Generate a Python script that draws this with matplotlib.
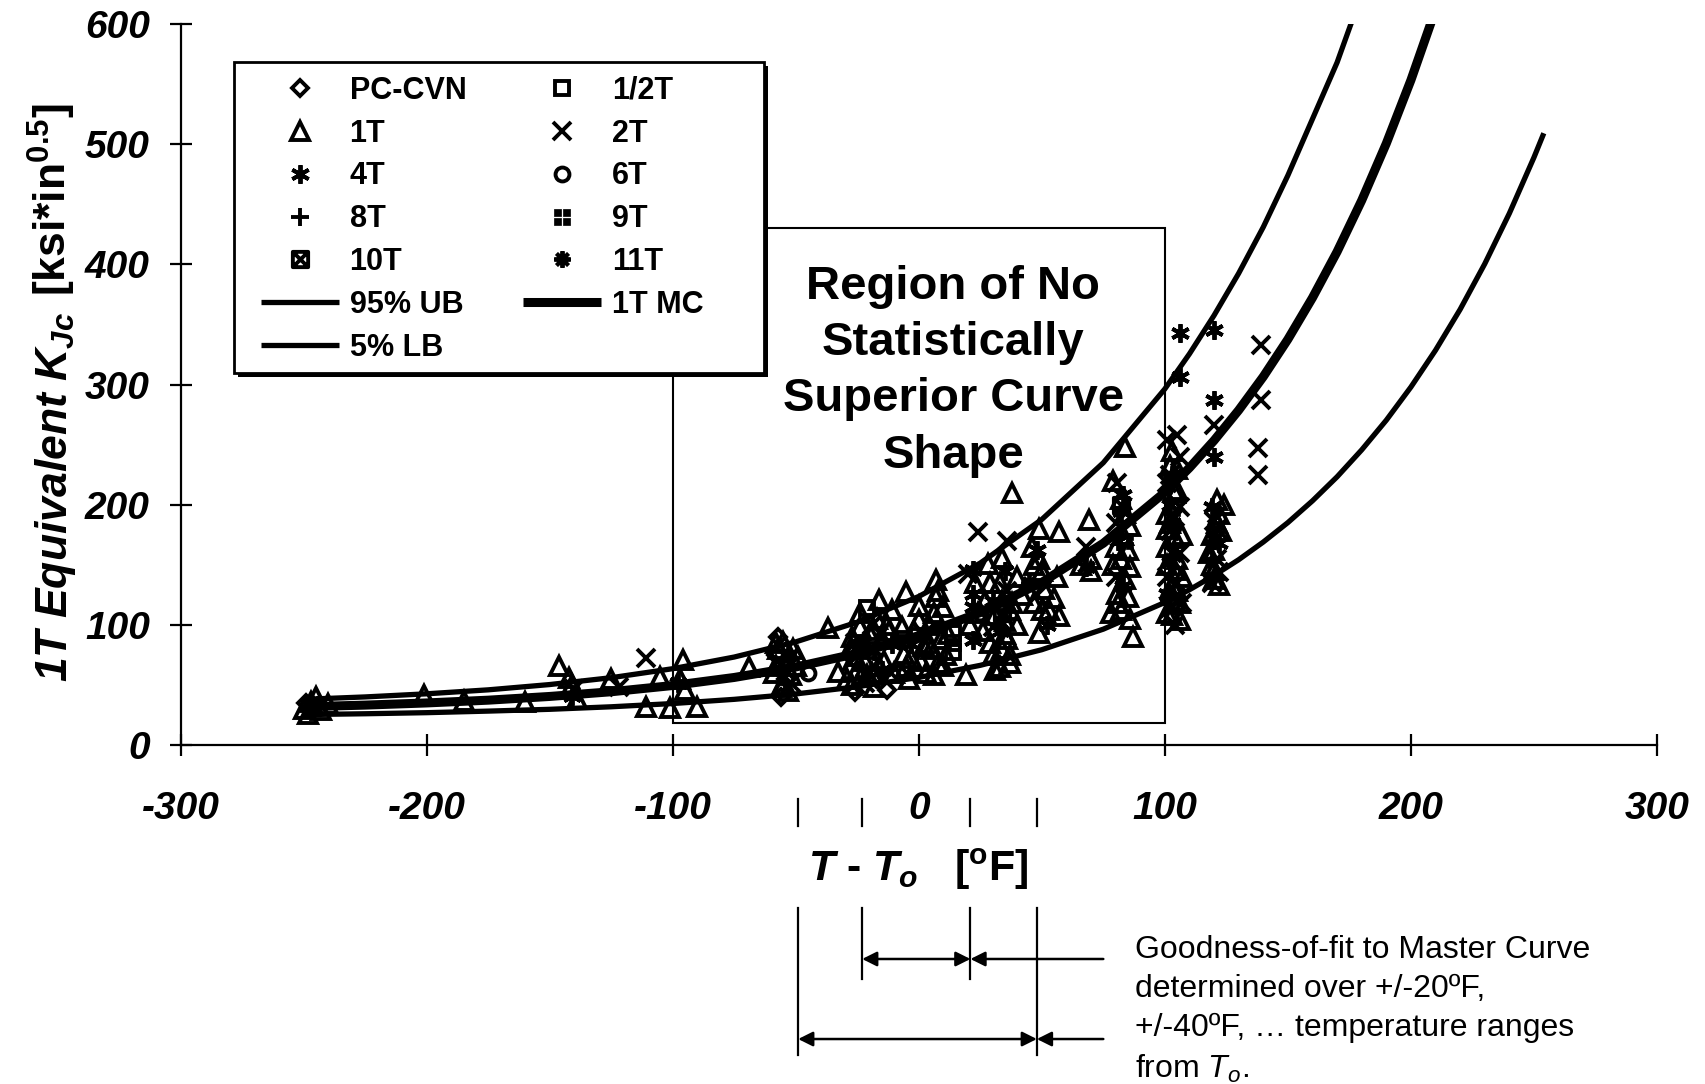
import matplotlib
matplotlib.use("Agg")
import matplotlib.pyplot as plt
from matplotlib.path import Path
from matplotlib.patches import Rectangle

plt.rcParams['font.family'] = ['Liberation Sans', 'DejaVu Sans']
plt.rcParams['axes.unicode_minus'] = False
plt.rcParams['mathtext.fontset'] = 'custom'
plt.rcParams['mathtext.it'] = 'Liberation Sans:italic:bold'
plt.rcParams['mathtext.rm'] = 'Liberation Sans:bold'
plt.rcParams['mathtext.bf'] = 'Liberation Sans:bold'
plt.rcParams['mathtext.sf'] = 'Liberation Sans:italic'

# ---- curves (T - To in F, K in ksi*in^0.5)
mc_T = [-250, -225, -200, -175, -150, -125, -100, -75, -50, -25, 0, 25, 50, 75, 100,
        110, 120, 130, 140, 150, 160, 170, 180, 190, 200, 210]
mc_K = [31.8, 33.2, 35.0, 37.3, 40.4, 44.3, 49.5, 56.2, 64.9, 76.2, 91.0, 110.2, 135.3, 167.9, 210.3,
        230.7, 253.4, 278.6, 306.5, 337.6, 372.2, 410.5, 453.2, 500.6, 553.3, 611.9]
ub_T = [-250, -225, -200, -175, -150, -125, -100, -75, -50, -25, 0, 25, 50, 75, 100,
        110, 120, 130, 140, 150, 160, 170, 180]
ub_K = [38.0, 40.0, 42.6, 45.9, 50.3, 56.0, 63.5, 73.2, 85.8, 102.2, 123.6, 151.4, 187.7, 234.9, 296.3,
        325.5, 357.5, 392.5, 431.0, 474.0, 521.0, 568.0, 625.0]
lb_T = [-250, -225, -200, -175, -150, -125, -100, -75, -50, -25, 0, 25, 50, 75, 100,
        110, 120, 130, 140, 150, 160, 170, 180, 190, 200, 210, 220, 230, 240, 250, 254]
lb_K = [25.3, 26.0, 26.9, 28.2, 29.7, 31.8, 34.5, 38.0, 42.5, 48.5, 56.2, 66.3, 79.3, 96.4, 118.6,
        129.2, 141.1, 154.2, 168.9, 185.1, 203.2, 223.2, 245.6, 270.3, 297.9, 328.5, 362.5, 400.4,
        442.4, 489.0, 509.1]

# ---- specimen data
pccvn_T = [-249, -57, -56, -58, -26, -13, -8, -54]
pccvn_K = [35, 90, 40, 75, 44, 46, 60, 55]

half_T = [-21, 14, 14, 14, -6]
half_K = [114, 93, 85, 77, 88]

t1_T = [-250, -247, -243, -240, -248, -245, -201, -160, -185, -146, -141, -139, -142, -125,
        -105, -111, -101, -90, -96, -97, -95, -69, -49, -58, -57, -53, -50, -59, -55, -37, -33,
        -56, -52, -58, -51, -55,
        -29, -28, -27, -25, -24, -22, -20, -19, -17, -16, -16, -15, -12, -11, -26, -21, -18,
        -27, -23, -21, -18, -14, -13, -10, -24,
        -7, -6, -5, -5, -4, 0, 0, 1, 3, 5, 6, 7, 7, 8, 9, 10, 11, 19, -2, 4,
        -3, 2, 4, 6, 8, 12, 10,
        21, 26, 28, 29, 31, 29, 30, 31, 24, 27, 23,
        38, 34, 33, 34, 37, 35, 36, 34, 37, 33, 37, 40, 42, 40, 35, 38,
        49, 57, 49, 47, 50, 51, 47, 53, 57, 49, 55, 56, 46, 50,
        69, 70, 70, 66,
        84, 79, 84, 83, 85, 82, 86, 80.5, 85, 81, 87, 78, 86, 82, 86, 80, 84, 82, 79,
        102, 104, 101, 104, 101, 104, 107, 103, 104, 103, 106, 102, 105,
        101, 105, 102, 106, 101, 105, 103, 105, 107, 101,
        121, 122, 119, 120, 119, 120, 124, 121, 118, 123, 120, 122]
t1_K = [30, 36, 29, 34, 26, 40, 42, 36, 37, 66, 50, 38, 56, 55,
        57, 32, 31, 32, 71, 55, 46, 65, 73, 85, 80, 45, 66, 60, 50, 97, 61,
        48, 58, 66, 80, 86,
        55, 80, 90, 62, 98, 70, 92, 60, 105, 121, 66, 88, 95, 112, 74, 58, 96,
        50, 58, 80, 48, 70, 100, 60, 110,
        98, 76, 127, 65, 55, 116, 104, 70, 60, 80, 110, 137, 123, 68, 88, 115, 75, 58, 95, 85,
        72, 82, 100, 58, 128, 92, 66,
        100, 95, 151, 135, 108, 85, 75, 62, 110, 120, 135,
        210, 156, 135, 120, 112, 103, 88, 80, 75, 65, 68, 140, 125, 100, 92, 118,
        180, 177, 155, 150, 145, 130, 118, 112, 107, 93, 122, 140, 165, 112,
        187, 155, 145, 150,
        248, 220, 193, 175, 162, 155, 148, 126, 123, 118, 90, 110, 105, 205, 182, 165, 138, 112, 150,
        232, 210, 192, 172, 165, 146, 140, 133, 120, 108, 104, 185, 128,
        180, 155, 125, 118, 110, 212, 245, 230, 175, 150,
        204, 192, 175, 162, 150, 138, 200, 185, 160, 178, 146, 133]

t2_T = [-246, -140, -111, -122, -52, -28, -22, -14, 2, 24, 20, 30, 36, 36, 48, 68,
        80.5, 80, 80, 105, 101, 106, 101, 106, 102, 103, 101, 102, 104, 106,
        120, 120, 121, 121, 122, 119, 139, 139, 138, 138,
        -57, -19, -26, 104, 105, 107, 102]
t2_K = [32, 47, 72, 48, 52, 68, 52, 55, 92, 177, 142, 98, 170, 128, 125, 165,
        218, 185, 140, 258, 254, 240, 218, 198, 178, 160, 140, 114, 100, 160,
        266, 186, 180, 155, 144, 135, 333, 287, 247, 225,
        70, 100, 85, 190, 135, 118, 225]

t4_T = [-244, -141, -98, -55, -23, -18, -3, 22, 22, 22, 22, 30, 35, 33, 48, 52, 68,
        83, 82, 81, 83, 106, 106, 103, 102, 103, 102, 101, 120, 120, 120, 119, 122,
        -53, -15, -11]
t4_K = [33, 41, 52, 62, 85, 78, 84, 146, 126, 115, 87, 120, 145, 95, 162, 100, 148,
        208, 195, 170, 132, 343, 306, 225, 200, 185, 152, 126, 345, 287, 240, 198, 168,
        75, 62, 84]

t6_T = [25, -45]
t6_K = [110, 60]
t8_T = [-55, 9]
t8_K = [70, 100]
t9_T = [103, 84]
t9_K = [190, 170]
t10_T = [82, 34]
t10_K = [200, 110]
t11_T = [120, 45]
t11_K = [170, 135]

# region box and range marks
box_T = (-100, 100)
box_K = (18, 430)
range_marks = [-49, -23, 21, 48]
arrow_end = 75

# custom marker shapes
boxx = Path([(-1, -1), (1, -1), (1, 1), (-1, 1), (-1, -1), (-1, -1), (1, 1), (-1, 1), (1, -1)],
            [Path.MOVETO, Path.LINETO, Path.LINETO, Path.LINETO, Path.CLOSEPOLY,
             Path.MOVETO, Path.LINETO, Path.MOVETO, Path.LINETO])
sq = []
for cx, cy in [(-0.55, -0.55), (0.55, -0.55), (0.55, 0.55), (-0.55, 0.55)]:
    sq.append(Path([(cx - .4, cy - .4), (cx + .4, cy - .4), (cx + .4, cy + .4), (cx - .4, cy + .4), (cx - .4, cy - .4)],
                   [Path.MOVETO, Path.LINETO, Path.LINETO, Path.LINETO, Path.CLOSEPOLY]))
four_sq = Path.make_compound_path(*sq)

fig = plt.figure(figsize=(17.05, 10.84), dpi=100)
ax = fig.add_axes([0.10587, 0.31273, 0.86598, 0.66513])

lub, = ax.plot(ub_T, ub_K, color='black', lw=3.8, solid_capstyle='butt')
llb, = ax.plot(lb_T, lb_K, color='black', lw=3.8, solid_capstyle='butt')
lmc, = ax.plot(mc_T, mc_K, color='black', lw=6.5, solid_capstyle='butt')

mk = dict(linestyle='none', mfc='none', mec='black', mew=2.8)
h_pc, = ax.plot(pccvn_T, pccvn_K, marker='D', ms=8.5, **mk)
h_half, = ax.plot(half_T, half_K, marker='s', ms=10.5, **mk)
h_1, = ax.plot(t1_T, t1_K, marker='^', ms=12.5, **mk)
h_2, = ax.plot(t2_T, t2_K, marker='x', ms=12.5, **mk)
h_4, = ax.plot(t4_T, t4_K, marker=(6, 2, 0), ms=13.5, **mk)
h_6, = ax.plot(t6_T, t6_K, marker='o', ms=10, **mk)
h_8, = ax.plot(t8_T, t8_K, marker='+', ms=13, **mk)
h_9, = ax.plot(t9_T, t9_K, marker=four_sq, ms=12, linestyle='none', mfc='black', mec='black', mew=0.5)
h_10, = ax.plot(t10_T, t10_K, marker=boxx, ms=11, **mk)
h_11, = ax.plot(t11_T, t11_K, marker=(8, 2, 0), ms=12, **mk)

ax.add_patch(Rectangle((box_T[0], box_K[0]), box_T[1] - box_T[0], box_K[1] - box_K[0],
                       fill=False, ec='black', lw=1.5, zorder=1))
ax.text(14, 311, "Region of No\nStatistically\nSuperior Curve\nShape", ha='center', va='center',
        fontsize=34, fontweight='bold', linespacing=1.36)

ax.set_xlim(-300, 300)
ax.set_ylim(0, 600)
ax.set_xticks(range(-300, 301, 100))
ax.set_yticks(range(0, 601, 100))
for s in ['top', 'right']:
    ax.spines[s].set_visible(False)
for s in ['left', 'bottom']:
    ax.spines[s].set_linewidth(1.6)
ax.tick_params(axis='both', direction='inout', length=16, width=1.6)
ax.tick_params(axis='x', pad=25)
ax.tick_params(axis='y', pad=14)
for lab in ax.get_xticklabels() + ax.get_yticklabels():
    lab.set_fontsize(28)
    lab.set_fontweight('bold')
    lab.set_fontstyle('italic')

# legend: frame (with black drop shadow) drawn separately
fx0, fx1, fy0, fy1 = 0.0362, 0.3952, 0.516, 0.9473
ax.add_patch(Rectangle((fx0 + 0.0025, fy0 - 0.0055), fx1 - fx0, fy1 - fy0, transform=ax.transAxes,
                       fc='black', ec='black', lw=0, zorder=4.4, clip_on=False))
ax.add_patch(Rectangle((fx0, fy0), fx1 - fx0, fy1 - fy0, transform=ax.transAxes,
                       fc='white', ec='black', lw=2, zorder=4.5, clip_on=False))

handles = [h_pc, h_1, h_4, h_8, h_10, lub, llb, h_half, h_2, h_6, h_9, h_11, lmc]
labels = ['PC-CVN', '1T', '4T', '8T', '10T', '95% UB', '5% LB', '1/2T', '2T', '6T', '9T', '11T', '1T MC']
leg = ax.legend(handles, labels, ncol=2, loc='upper left', bbox_to_anchor=(0.0545, 0.9283),
                borderaxespad=0, prop=dict(weight='bold', size=22), handlelength=2.55,
                handletextpad=0.35, columnspacing=1.87, labelspacing=0.42, frameon=False,
                borderpad=0)
leg.set_zorder(5)

# axis titles
ylab1 = fig.text(67 / 1705, 1 - 682 / 1084, "1T Equivalent $K_{Jc}$", rotation=90, rotation_mode='anchor',
                 ha='left', va='baseline', fontsize=32, fontweight='bold', fontstyle='italic')
fig.canvas.draw()
bb = ylab1.get_window_extent()
fig.text(67 / 1705, (bb.y1 + 16) / fig.bbox.height, "[ksi*in$^{0.5}$]", rotation=90,
         rotation_mode='anchor', ha='left', va='baseline', fontsize=32, fontweight='bold')

tr = ax.get_xaxis_transform()
ax.text(0, -0.173, "$T$ - $T_o$   [$^{\\rm o}$F]", transform=tr, ha='center', va='center',
        fontsize=31, fontweight='bold')

# goodness-of-fit range marks and arrows
for x in range_marks:
    ax.plot([x, x], [-0.075, -0.112], transform=tr, color='black', lw=1.6, clip_on=False)
inner = range_marks[1:3]
outer = [range_marks[0], range_marks[3]]
for x in outer:
    ax.plot([x, x], [-0.226, -0.430], transform=tr, color='black', lw=1.6, clip_on=False)
for x in inner:
    ax.plot([x, x], [-0.226, -0.3245], transform=tr, color='black', lw=1.6, clip_on=False)

ap2 = dict(arrowstyle='<|-|>', color='black', lw=1.8, mutation_scale=22, shrinkA=0, shrinkB=0)
ap1 = dict(arrowstyle='-|>', color='black', lw=1.8, mutation_scale=22, shrinkA=0, shrinkB=0)
for (a, b), y in [(inner, -0.2968), (outer, -0.4078)]:
    ax.annotate('', xy=(a, y), xytext=(b, y), xycoords=tr, textcoords=tr,
                arrowprops=ap2, annotation_clip=False)
    ax.annotate('', xy=(b, y), xytext=(arrow_end, y), xycoords=tr, textcoords=tr,
                arrowprops=ap1, annotation_clip=False)

ax.text(88, -0.264, "Goodness-of-fit to Master Curve\ndetermined over +/-20\u00baF,\n"
        "+/-40\u00baF, \u2026 temperature ranges\nfrom $\\mathsf{T}_\\mathsf{o}$.",
        transform=tr, ha='left', va='top', fontsize=23, linespacing=1.38)

fig.savefig("out.png", dpi=100)
